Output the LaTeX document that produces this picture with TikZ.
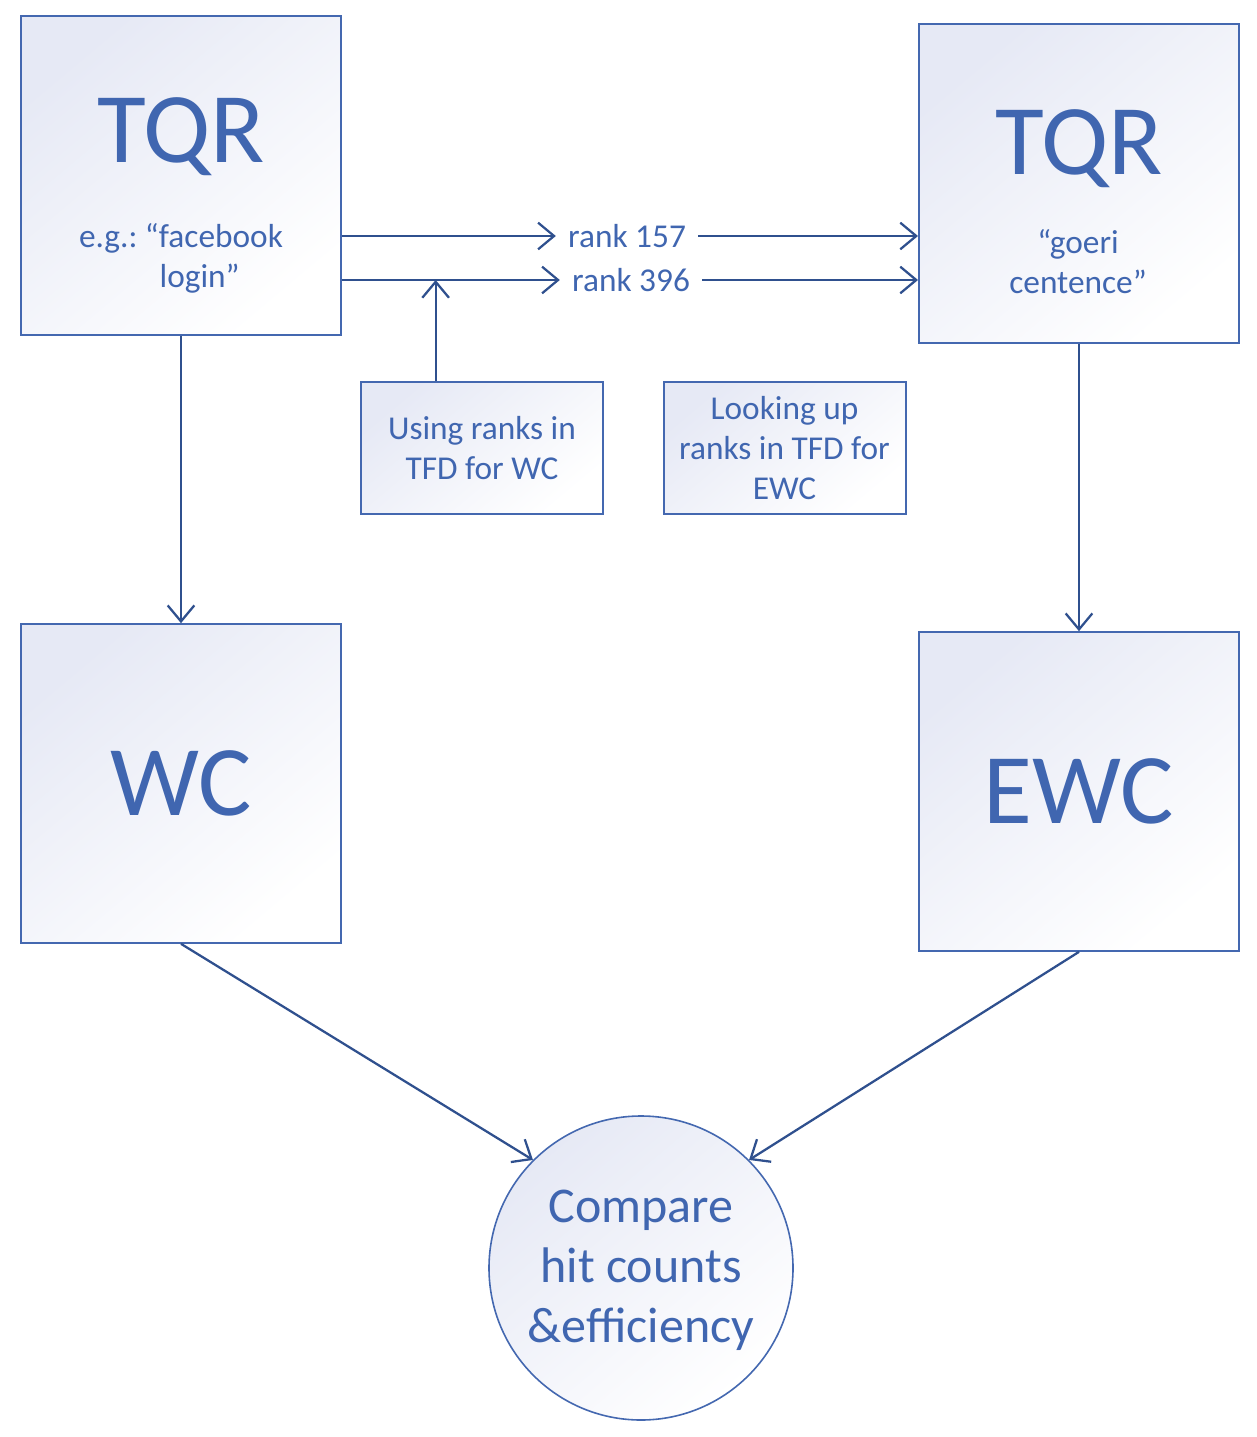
\documentclass[tikz,border=0pt]{standalone}
\usepackage{fontspec}
\setmainfont{Carlito}
\usepackage{xcolor}
\definecolor{rankcolText}{HTML}{4066B0}
\definecolor{rankcolBorder}{HTML}{4468B0}
\definecolor{rankcolArrow}{HTML}{2F508E}
\definecolor{rankcolTint}{HTML}{E6E9F5}
\usetikzlibrary{shapes,arrows.meta,positioning,calc}
\tikzset{
    bigbox/.style={
        draw=rankcolBorder,
        rectangle,
        shading=axis,
        top color=rankcolTint,
        middle color=rankcolTint!20!white,
        bottom color=white,
        shading angle=40,
        line width=1.5pt,
        minimum width=240pt,
        minimum height=239pt,
        inner sep=0pt,
        text=rankcolText,
        font=\fontsize{75}{80}\selectfont
    },
    notebox/.style={
        draw=rankcolBorder,
        rectangle,
        shading=axis,
        top color=rankcolTint,
        middle color=rankcolTint!20!white,
        bottom color=white,
        shading angle=40,
        line width=1.5pt,
        minimum width=181.5pt,
        minimum height=99pt,
        align=center,
        text=rankcolText,
        font=\fontsize{25}{30}\selectfont
    },
    compare/.style={
        draw=rankcolBorder,
        circle,
        shading=axis,
        top color=rankcolTint,
        middle color=rankcolTint!20!white,
        bottom color=white,
        shading angle=40,
        line width=1.2pt,
        minimum size=228pt,
        inner sep=0pt,
        align=center,
        text depth=2pt,
        text=rankcolText,
        font=\fontsize{37.5}{45}\selectfont
    },
    title/.style={
        anchor=base,
        inner sep=0pt,
        text=rankcolText,
        font=\fontsize{75}{80}\selectfont
    },
    caption/.style={
        align=center,
        inner sep=0pt,
        text=rankcolText,
        font=\fontsize{25}{30}\selectfont
    },
    rank/.style={
        inner xsep=9pt,
        inner ysep=0pt,
        text=rankcolText,
        font=\fontsize{25}{30}\selectfont
    },
    arrow/.style={
        -{Straight Barb[length=12pt,width=20pt]},
        line width=1.7pt,
        color=rankcolArrow
    }
}
\frenchspacing

\begin{document}
\begin{tikzpicture}[x=0.75pt,y=-0.75pt]
    \useasboundingbox (0,0) rectangle (1256,1437);

    % Query boxes
    \node[bigbox] (tqrL) at (181,175.5) {};
    \node[bigbox] (tqrR) at (1079,183.5) {};
    \node[title] (tqrLtitle) at (181,163) {TQR};
    \node[title] (tqrRtitle) at (1079,175) {TQR};
    \node[caption] (tqrLtext) at (181,258) {e.g.: “facebook\\\hspace*{28pt}login”};
    \node[caption] (tqrRtext) at (1078,262) {“goeri\\centence”};

    % Word counts
    \node[bigbox] (wc) at (181,783.5) {WC};
    \node[bigbox] (ewc) at (1079,791.5) {EWC};

    % Notes
    \node[notebox] (usingWC) at (482,448) {Using ranks in\\TFD for WC};
    \node[notebox] (lookEWC) at (784.5,448) {Looking up\\ranks in TFD for\\EWC};

    % Comparison
    \node[compare] (cmp) at (641,1268) {Compare\\hit counts\\\&efficiency};

    % Ranks
    \node[rank] (r157) at (627,236) {rank 157};
    \node[rank] (r396) at (631,280) {rank 396};

    \draw[arrow] (tqrL.east |- r157.west) -- (r157.west);
    \draw[arrow] (r157.east) -- (r157.east -| tqrR.west);
    \draw[arrow] (tqrL.east |- r396.west) -- (r396.west);
    \draw[arrow] (r396.east) -- (r396.east -| tqrR.west);

    \coordinate (tapWC) at ($(usingWC.north west)!0.31!(usingWC.north east)$);
    \draw[arrow] (tapWC) -- (tapWC |- r396.west);

    % Down the sides
    \draw[arrow] (tqrL) -- (wc);
    \draw[arrow] (tqrR) -- (ewc);
    \draw[arrow] (wc.south) -- (cmp.north west);
    \draw[arrow] (ewc.south) -- (cmp.north east);
\end{tikzpicture}
\end{document}
